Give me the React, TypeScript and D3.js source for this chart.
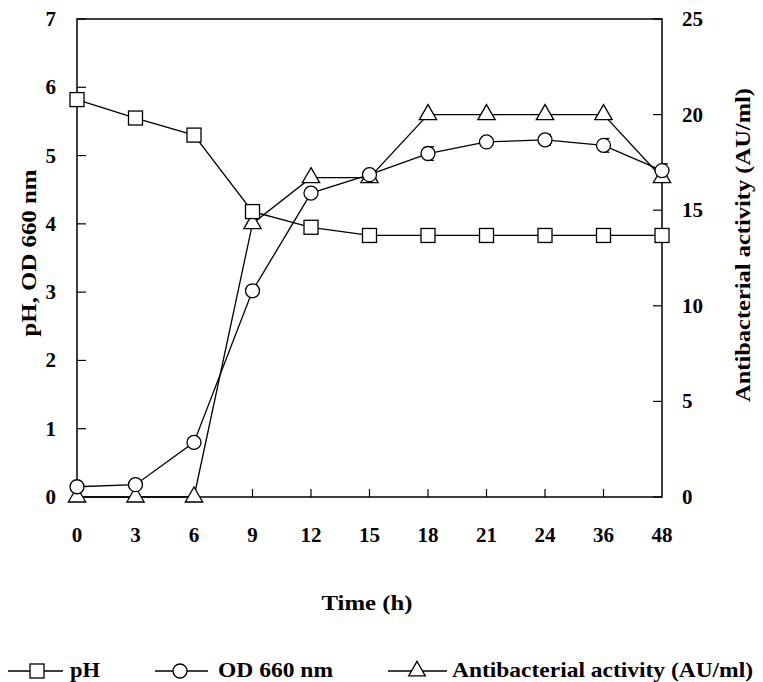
import React, { useEffect, useRef } from "react";
import * as d3 from "d3";

const times = ["0", "3", "6", "9", "12", "15", "18", "21", "24", "36", "48"];
const pH = [5.82, 5.55, 5.3, 4.18, 3.95, 3.83, 3.83, 3.83, 3.83, 3.83, 3.83];
const od = [0.15, 0.18, 0.8, 3.02, 4.45, 4.72, 5.03, 5.2, 5.23, 5.15, 4.78];
const odErr = [0, 0, 0, 0, 0, 0, 0.1, 0, 0.08, 0.1, 0.1];
const activity = [0, 0, 0, 14.3, 16.7, 16.7, 20, 20, 20, 20, 16.7];
const leftTicks = [0, 1, 2, 3, 4, 5, 6, 7];
const rightTicks = [0, 5, 10, 15, 20, 25];

export default function App() {
  const ref = useRef<SVGSVGElement>(null);

  useEffect(() => {
    const svg = d3.select(ref.current);
    svg.selectAll("*").remove();

    const left = 77, right = 662, top = 19, bottom = 497;
    const font = "'Liberation Serif', 'Times New Roman', serif";

    const x = d3.scalePoint().domain(times).range([left, right]);
    const y = d3.scaleLinear().domain([0, 7]).range([bottom, top]);
    const y2 = d3.scaleLinear().domain([0, 25]).range([bottom, top]);

    // frame
    svg.append("rect")
      .attr("x", left).attr("y", top)
      .attr("width", right - left).attr("height", bottom - top)
      .attr("fill", "none").attr("stroke", "#000").attr("stroke-width", 1.5);

    // left axis ticks (inward)
    svg.selectAll(".lt").data(leftTicks).enter().append("line")
      .attr("x1", left).attr("x2", left + 9)
      .attr("y1", d => y(d)).attr("y2", d => y(d))
      .attr("stroke", "#000").attr("stroke-width", 1.2);
    svg.selectAll(".ltl").data(leftTicks).enter().append("text")
      .attr("x", left - 21).attr("y", d => y(d) + 7)
      .attr("text-anchor", "end")
      .style("font", `bold 21px ${font}`)
      .text(d => d);

    // right axis
    svg.selectAll(".rt").data(rightTicks).enter().append("line")
      .attr("x1", right - 9).attr("x2", right)
      .attr("y1", d => y2(d)).attr("y2", d => y2(d))
      .attr("stroke", "#000").attr("stroke-width", 1.2);
    svg.selectAll(".rtl").data(rightTicks).enter().append("text")
      .attr("x", right + 20).attr("y", d => y2(d) + 7)
      .attr("text-anchor", "start")
      .style("font", `bold 21px ${font}`)
      .text(d => d);

    // x ticks
    svg.selectAll(".xt").data(times.slice(1, -1)).enter().append("line")
      .attr("x1", d => x(d)!).attr("x2", d => x(d)!)
      .attr("y1", bottom).attr("y2", bottom - 8)
      .attr("stroke", "#000").attr("stroke-width", 1.2);
    svg.selectAll(".xtl").data(times).enter().append("text")
      .attr("x", d => x(d)!).attr("y", bottom + 45)
      .attr("text-anchor", "middle")
      .style("font", `bold 21px ${font}`)
      .text(d => d);

    // axis titles
    svg.append("text")
      .attr("transform", `translate(36,253) rotate(-90)`)
      .attr("text-anchor", "middle")
      .attr("textLength", 167).attr("lengthAdjust", "spacingAndGlyphs")
      .style("font", `bold 21px ${font}`)
      .text("pH, OD 660 nm");
    svg.append("text")
      .attr("transform", `translate(750,245) rotate(-90)`)
      .attr("text-anchor", "middle")
      .attr("textLength", 314).attr("lengthAdjust", "spacingAndGlyphs")
      .style("font", `bold 21px ${font}`)
      .text("Antibacterial activity (AU/ml)");
    svg.append("text")
      .attr("x", 367).attr("y", 610)
      .attr("text-anchor", "middle")
      .attr("textLength", 91).attr("lengthAdjust", "spacingAndGlyphs")
      .style("font", `bold 22px ${font}`)
      .text("Time (h)");

    const line = (vals: number[], sc: d3.ScaleLinear<number, number>) =>
      d3.line<number>().x((_, i) => x(times[i])!).y(d => sc(d))(vals);

    const g = svg.append("g");
    [[pH, y], [od, y], [activity, y2]].forEach(([vals, sc]: any) => {
      g.append("path").attr("d", line(vals, sc)!)
        .attr("fill", "none").attr("stroke", "#000").attr("stroke-width", 1.3);
    });

    // error bars on OD
    odErr.forEach((e, i) => {
      if (!e) return;
      const cx = x(times[i])!;
      [od[i] + e, od[i] - e].forEach(v => {
        g.append("line").attr("x1", cx).attr("x2", cx + 6)
          .attr("y1", y(v)).attr("y2", y(v))
          .attr("stroke", "#000").attr("stroke-width", 1.2);
      });
      g.append("line").attr("x1", cx + 3).attr("x2", cx + 3)
        .attr("y1", y(od[i] + e)).attr("y2", y(od[i] - e))
        .attr("stroke", "#000").attr("stroke-width", 1.2);
    });

    const tri = d3.symbol().type(d3.symbolTriangle).size(130);
    g.selectAll(".tri").data(activity).enter().append("path")
      .attr("d", tri()!)
      .attr("transform", (d, i) => `translate(${x(times[i])},${y2(d)})`)
      .attr("fill", "#fff").attr("stroke", "#000").attr("stroke-width", 1.3);
    g.selectAll(".cir").data(od).enter().append("circle")
      .attr("cx", (_, i) => x(times[i])!).attr("cy", d => y(d)).attr("r", 7)
      .attr("fill", "#fff").attr("stroke", "#000").attr("stroke-width", 1.3);
    g.selectAll(".sq").data(pH).enter().append("rect")
      .attr("x", (_, i) => x(times[i])! - 7).attr("y", d => y(d) - 7)
      .attr("width", 14).attr("height", 14)
      .attr("fill", "#fff").attr("stroke", "#000").attr("stroke-width", 1.3);

    // legend
    const ly = 671;
    const leg = svg.append("g");
    const items = [
      { x0: 8, x1: 63, cx: 37, label: "pH", tx: 70, w: 30, kind: "sq" },
      { x0: 155, x1: 208, cx: 180, label: "OD 660 nm", tx: 218, w: 115, kind: "cir" },
      { x0: 388, x1: 447, cx: 417, label: "Antibacterial activity (AU/ml)", tx: 452, w: 301, kind: "tri" },
    ];
    items.forEach(it => {
      leg.append("line").attr("x1", it.x0).attr("x2", it.x1)
        .attr("y1", ly).attr("y2", ly).attr("stroke", "#000").attr("stroke-width", 1.5);
      if (it.kind === "sq") {
        leg.append("rect").attr("x", it.cx - 7).attr("y", ly - 7).attr("width", 14).attr("height", 14)
          .attr("fill", "#fff").attr("stroke", "#000").attr("stroke-width", 1.3);
      } else if (it.kind === "cir") {
        leg.append("circle").attr("cx", it.cx).attr("cy", ly).attr("r", 7)
          .attr("fill", "#fff").attr("stroke", "#000").attr("stroke-width", 1.3);
      } else {
        leg.append("path").attr("d", d3.symbol().type(d3.symbolTriangle).size(120)()!)
          .attr("transform", `translate(${it.cx},${ly})`)
          .attr("fill", "#fff").attr("stroke", "#000").attr("stroke-width", 1.3);
      }
      leg.append("text").attr("x", it.tx).attr("y", ly + 6)
        .attr("textLength", it.w).attr("lengthAdjust", "spacingAndGlyphs")
        .style("font", `bold 21px ${font}`)
        .text(it.label);
    });
  }, []);

  return (
    <svg ref={ref} width={763} height={682}
      style={{ position: "absolute", left: 0, top: 0, background: "#fff" }} />
  );
}
